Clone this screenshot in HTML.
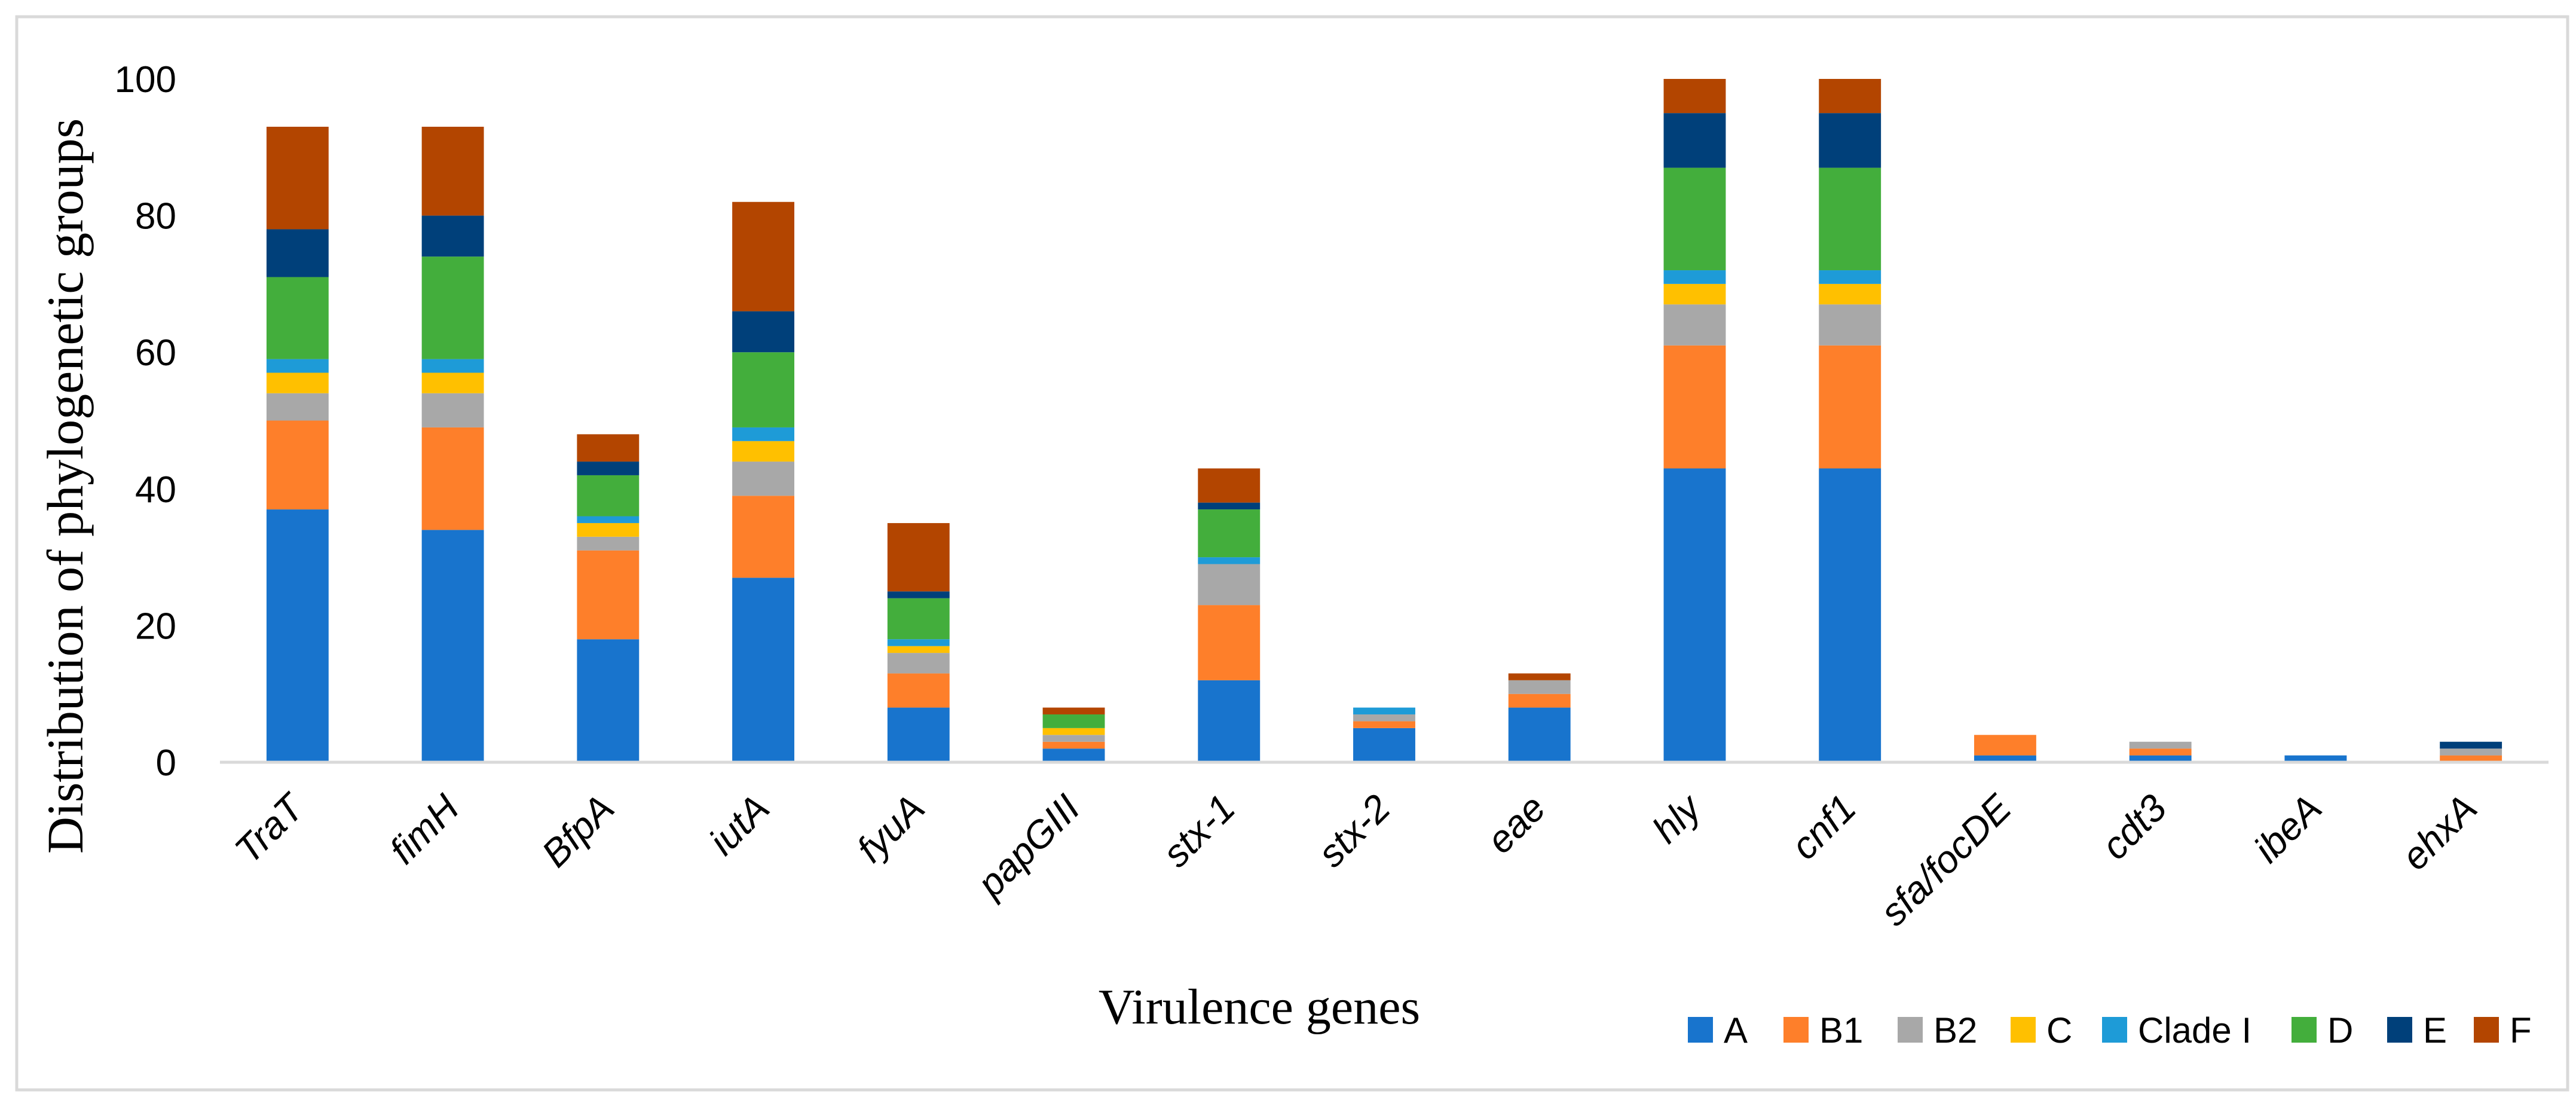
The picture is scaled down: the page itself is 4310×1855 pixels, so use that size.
<!DOCTYPE html>
<html><head><meta charset="utf-8"><style>
html,body{margin:0;padding:0;background:#fff;}
svg{display:block;}
</style></head><body>
<svg id="chart" width="4310" height="1855" viewBox="0 0 4310 1855" xmlns="http://www.w3.org/2000/svg">
<rect x="28" y="28" width="4268" height="1795" fill="#fff" stroke="#d9d9d9" stroke-width="5"/>
<g id="bars"></g>
<g id="yticks"></g>
<g id="xlabels"></g>
<line x1="368" y1="1275" x2="4264" y2="1275" stroke="#d9d9d9" stroke-width="5"/>
<text transform="translate(138,813) rotate(-90)" text-anchor="middle" font-family="Liberation Serif, serif" font-size="86">Distribution of phylogenetic groups</text>
<text x="2107" y="1712" text-anchor="middle" font-family="Liberation Serif, serif" font-size="84">Virulence genes</text>
<g id="legend"></g>
</svg>
<script>
const categories = ["TraT","fimH","BfpA","iutA","fyuA","papGIII","stx-1","stx-2","eae","hly","cnf1","sfa/focDE","cdt3","ibeA","ehxA"];
const seriesNames = ["A","B1","B2","C","Clade I","D","E","F"];
const sA  = [37,34,18,27,8,2,12,5,8,43,43,1,1,1,0];
const sB1 = [13,15,13,12,5,1,11,1,2,18,18,3,1,0,1];
const sB2 = [4,5,2,5,3,1,6,1,2,6,6,0,1,0,1];
const sC  = [3,3,2,3,1,1,0,0,0,3,3,0,0,0,0];
const sCI = [2,2,1,2,1,0,1,1,0,2,2,0,0,0,0];
const sD  = [12,15,6,11,6,2,7,0,0,15,15,0,0,0,0];
const sE  = [7,6,2,6,1,0,1,0,0,8,8,0,0,0,1];
const sF  = [15,13,4,16,10,1,5,0,1,5,5,0,0,0,0];
const yTicks = [0,20,40,60,80,100];

const series = [sA,sB1,sB2,sC,sCI,sD,sE,sF];
const colors = ["#1874cd","#fe7f2a","#a8a8a8","#ffc000","#1e9bd7","#43ae3c","#00407a","#b34500"];
const NS = "http://www.w3.org/2000/svg";
const plotL = 368, plotR = 4264, y0 = 1275, y100 = 132;
const band = (plotR - plotL) / categories.length;
const barW = band * 0.4;
function xC(i){ return plotL + band*(i+0.5); }
function yS(v){ return y0 - (y0 - y100) * v / 100; }
function mk(tag, attrs, parent){ const e = document.createElementNS(NS, tag); for (const k in attrs) e.setAttribute(k, attrs[k]); parent.appendChild(e); return e; }

const gb = document.getElementById('bars');
categories.forEach((c,i)=>{
  let cum = 0;
  series.forEach((s,k)=>{
    const v = s[i];
    if (v > 0) {
      const r = mk('rect', {x: xC(i)-barW/2, y: yS(cum+v), width: barW, height: yS(cum)-yS(cum+v), fill: colors[k]}, gb);
      
      
    }
    cum += v;
  });
});

const gy = document.getElementById('yticks');
yTicks.forEach(t=>{
  const e = mk('text', {x: 295, y: yS(t)+22, 'text-anchor':'end', 'font-family':'Liberation Sans, sans-serif', 'font-size':'62'}, gy);
  e.textContent = t;
  
  
});

const gx = document.getElementById('xlabels');
categories.forEach((c,i)=>{
  const x = xC(i)+14, y = 1356;
  const e = mk('text', {x: x, y: y, transform:`rotate(-45 ${x} ${y})`, 'text-anchor':'end', 'font-family':'Liberation Sans, sans-serif', 'font-style':'italic', 'font-size':'64'}, gx);
  e.textContent = c;
  
  
});

const gl = document.getElementById('legend');
const legX = [2824,2984,3175,3364,3517,3834,3994,4139];
seriesNames.forEach((n,k)=>{
  const g = mk('g', {}, gl);
  
  
  mk('rect', {x: legX[k], y: 1701, width: 42, height: 43, fill: colors[k]}, g);
  const t = mk('text', {x: legX[k]+60, y: 1744, 'font-family':'Liberation Sans, sans-serif', 'font-size':'60'}, g);
  t.textContent = n;
});
</script>
</body></html>
